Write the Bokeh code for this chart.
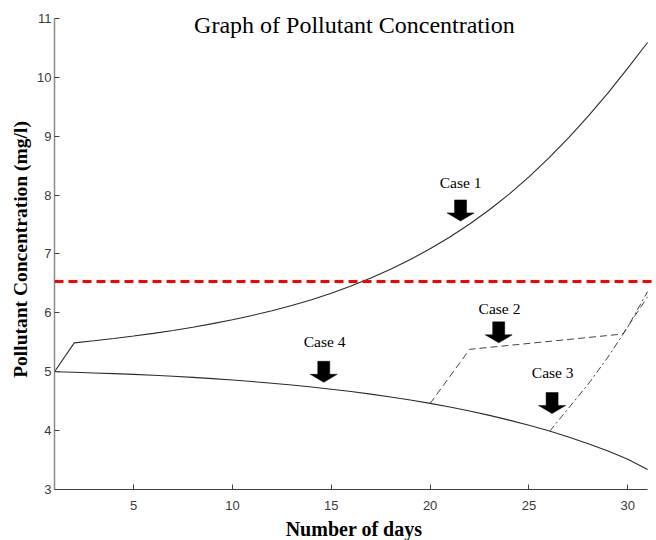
from bokeh.plotting import figure
from bokeh.models import Range1d, FixedTicker, Span, Label
from bokeh.embed import file_html
from bokeh.resources import INLINE

# ---- data ----
days = list(range(1, 32))
case1 = [5.000, 5.490, 5.525, 5.563, 5.605, 5.651, 5.701, 5.756, 5.816, 5.882,
         5.955, 6.035, 6.124, 6.223, 6.333, 6.455, 6.590, 6.740, 6.905, 7.087,
         7.287, 7.507, 7.749, 8.015, 8.307, 8.625, 8.970, 9.340, 9.735, 10.155, 10.590]
case4 = [5.000, 4.990, 4.979, 4.967, 4.954, 4.939, 4.922, 4.903, 4.882, 4.859,
         4.833, 4.805, 4.774, 4.740, 4.703, 4.663, 4.619, 4.571, 4.519, 4.462,
         4.400, 4.332, 4.258, 4.178, 4.091, 3.996, 3.892, 3.778, 3.652, 3.512, 3.340]
case2_days = [20, 22, 29.75, 31]
case2 = [4.46, 5.38, 5.64, 6.27]
case3_days = [26.05, 27, 28, 29, 30, 31]
case3 = [3.99, 4.38, 4.79, 5.25, 5.76, 6.36]
limit_value = 6.53

x_ticks = [5, 10, 15, 20, 25, 30]
y_ticks = [3, 4, 5, 6, 7, 8, 9, 10, 11]

case_labels = ["Case 1", "Case 2", "Case 3", "Case 4"]
label_x = [21.54, 23.51, 26.20, 14.66]
label_y = [8.21, 6.07, 4.98, 5.52]
arrow_x = [21.54, 23.47, 26.17, 14.62]
arrow_y = [7.56, 5.49, 4.29, 4.82]

title_text = "Graph of Pollutant Concentration"
x_label = "Number of days"
y_label = "Pollutant Concentration (mg/l)"

# ---- layout ----
X0, X1 = 1, 31.3
Y0, Y1 = 3, 11.15
FW, FH = 599, 480

p = figure(frame_width=FW, frame_height=FH, output_backend="svg", toolbar_location=None,
           x_range=Range1d(X0, X1), y_range=Range1d(Y0, Y1),
           min_border_left=54, min_border_right=1, min_border_top=9, min_border_bottom=49)
p.outline_line_color = None
p.xgrid.visible = False
p.ygrid.visible = False
p.background_fill_color = "white"

tick_font = "Liberation Sans"
for ax in (p.xaxis[0], p.yaxis[0]):
    ax.major_tick_in = 5
    ax.major_tick_out = 0
    ax.minor_tick_line_color = None
    ax.major_label_text_font = tick_font
    ax.major_label_text_font_size = "13px"
    ax.major_label_text_color = "#3a3a3a"
    ax.axis_label_text_font = "Liberation Serif"
    ax.axis_label_text_font_style = "bold"
    ax.axis_label_text_color = "black"

p.xaxis.ticker = FixedTicker(ticks=x_ticks)
p.yaxis.ticker = FixedTicker(ticks=y_ticks)
p.xaxis.bounds = (1, 31)
p.yaxis.bounds = (3, 11)
p.xaxis.axis_label = x_label
p.yaxis.axis_label = y_label
p.xaxis.axis_label_text_font_size = "20px"
p.yaxis.axis_label_text_font_size = "19.5px"
p.xaxis.major_label_standoff = 11
p.yaxis.major_label_standoff = 3
p.xaxis.axis_label_standoff = 5
p.yaxis.axis_label_standoff = 3
p.xaxis.axis_line_color = "#404040"
p.xaxis.major_tick_line_color = "#404040"
p.yaxis.axis_line_color = "#8a8a8a"
p.yaxis.axis_line_width = 1.5
p.yaxis.major_tick_line_color = "#404040"

# limit line
p.add_layout(Span(location=limit_value, dimension="width", line_color="#ff0000",
                  line_width=3, line_dash="9 5"))

# curves
p.line(days, case1, line_color="#2b2b2b", line_width=1.1)
p.line(days, case4, line_color="#2b2b2b", line_width=1.1)
p.line(case2_days, case2, line_color="#444444", line_width=1, line_dash="7 4")
p.line(case3_days, case3, line_color="#444444", line_width=1, line_dash="7 3 2 3")

# block arrows (shape in screen pixels, converted to data units)
sx = FW / (X1 - X0)
sy = FH / (Y1 - Y0)
shape_dx = [-6, 6, 6, 13.5, 0, -13.5, -6]
shape_dy = [21, 21, 8, 8, 0, 8, 8]
xs, ys = [], []
for ax_, ay_ in zip(arrow_x, arrow_y):
    xs.append([ax_ + d / sx for d in shape_dx])
    ys.append([ay_ + d / sy for d in shape_dy])
p.patches(xs, ys, fill_color="black", line_color="black", line_width=0.5)

# labels
for t, lx, ly in zip(case_labels, label_x, label_y):
    p.add_layout(Label(x=lx, y=ly, text=t, text_font="Liberation Serif",
                       text_font_size="15.5px", text_align="center",
                       text_baseline="middle", text_color="black"))

p.add_layout(Label(x=16.17, y=10.88, text=title_text, text_font="Liberation Serif",
                   text_font_size="24px", text_align="center", text_baseline="middle",
                   text_color="black"))

open("out.html", "w").write(file_html(p, INLINE))
